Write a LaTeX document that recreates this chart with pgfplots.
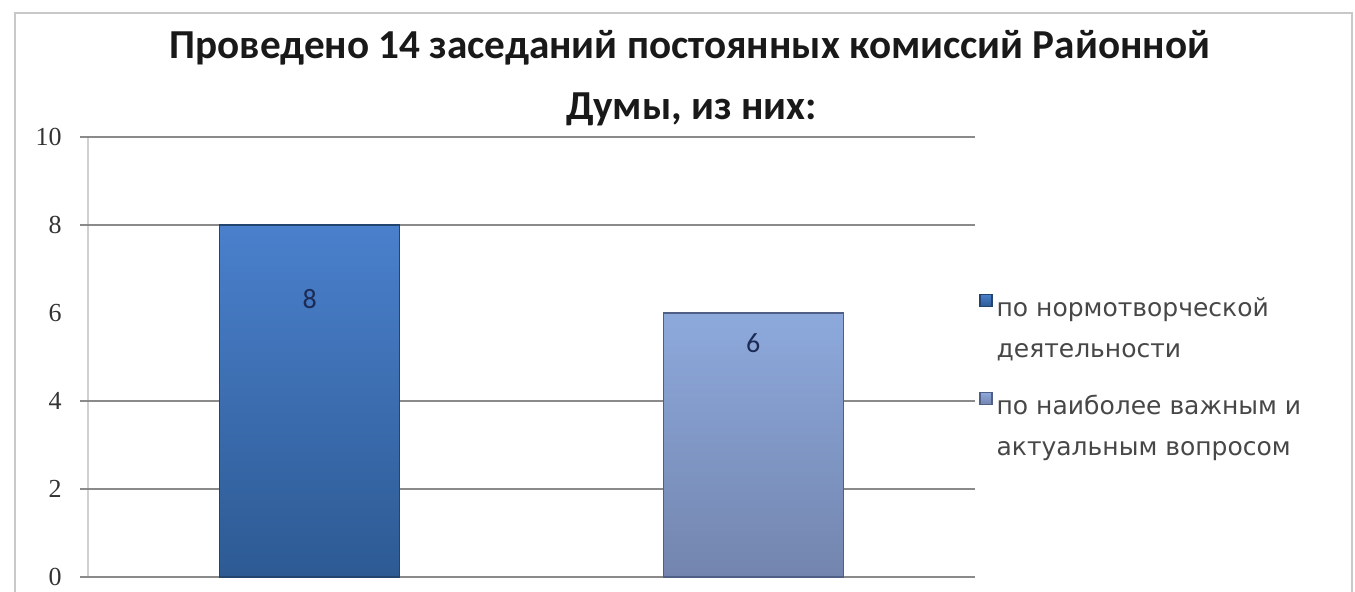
\documentclass[border=0pt]{standalone}
\usepackage{pgfplots}
\pgfplotsset{compat=1.18}
\usepackage{fontspec}
\setmainfont{Liberation Serif}
\newfontfamily\titlefont{Carlito}
\newfontfamily\legfont{DejaVu Sans}
\definecolor{baronetop}{HTML}{4A80CC}
\definecolor{baronemid}{HTML}{3A6DB5}
\definecolor{baronebot}{HTML}{2D5A93}
\definecolor{baroneedge}{HTML}{22446E}
\definecolor{bartwotop}{HTML}{8DA9DC}
\definecolor{bartwomid}{HTML}{8099CB}
\definecolor{bartwobot}{HTML}{7385AE}
\definecolor{bartwoedge}{HTML}{4F5F85}
\definecolor{gridgray}{HTML}{8A8A8A}
\definecolor{framegray}{HTML}{C8C8C8}
\definecolor{labelnavy}{HTML}{1C2B55}
\begin{document}
\begin{tikzpicture}
\path[use as bounding box] (0pt,0pt) rectangle (677.5pt,295.5pt);
\draw[framegray, line width=1.2pt] (7.5pt,-5pt) -- (7.5pt,289pt) -- (676pt,289pt) -- (676pt,-5pt);
\node[anchor=base, font=\titlefont\bfseries\fontsize{20.6}{24}\selectfont, text=black!90] at (345pt,266.5pt) {Проведено 14 заседаний постоянных комиссий Районной};
\node[anchor=base, font=\titlefont\bfseries\fontsize{20.6}{24}\selectfont, text=black!90] at (346pt,236pt) {Думы, из них:};
\begin{axis}[
  at={(44pt,7pt)}, anchor=south west,
  scale only axis, width=443.5pt, height=220pt,
  xmin=-0.5, xmax=1.5, ymin=0, ymax=10,
  axis x line=none,
  axis y line*=left,
  y axis line style={color=black!18, line width=1.2pt, -},
  ytick={0,2,4,6,8,10},
  major tick length=0pt,
  extra y ticks={0,2,4,8,10},
  extra y tick labels={},
  extra y tick style={grid=major, major tick length=4pt, tick align=outside, tick style={color=gridgray, line width=1pt}},
  grid style={color=gridgray, line width=1pt},
  /pgf/number format/assume math mode=true,
  yticklabel style={anchor=east, inner sep=0pt, xshift=-13pt, font=\fontsize{13}{13}\selectfont, text=black!80},
  legend style={at={(1,0.65)}, anchor=north west, xshift=2pt, draw=none, fill=none,
    font=\legfont\fontsize{12.5}{15}\selectfont, text=black!72, row sep=33pt, inner sep=0pt},
  legend cell align=left,
  legend image code/.code={\draw[#1] (0pt,0.5pt) rectangle (6pt,6.5pt);},
  clip=false,
]
\addplot[ybar, bar width=90pt, bar shift=0pt, draw=baroneedge, line width=0.6pt,
  top color=baronetop, middle color=baronemid, bottom color=baronebot,
  nodes near coords,
  every node near coord/.append style={anchor=center, yshift=-37pt, font=\titlefont\fontsize{14}{14}\selectfont, text=labelnavy}]
  coordinates {(0,8)};
\addlegendentry{\begin{tabular}[t]{@{}l@{}}по нормотворческой\\[5.5pt]деятельности\end{tabular}}
\addplot[ybar, bar width=90pt, bar shift=0pt, draw=bartwoedge, line width=0.6pt,
  top color=bartwotop, middle color=bartwomid, bottom color=bartwobot,
  nodes near coords,
  every node near coord/.append style={anchor=center, yshift=-15pt, font=\titlefont\fontsize{14}{14}\selectfont, text=labelnavy}]
  coordinates {(1,6)};
\addlegendentry{\begin{tabular}[t]{@{}l@{}}по наиболее важным и\\[5.5pt]актуальным вопросом\end{tabular}}
\end{axis}
\end{tikzpicture}
\end{document}
